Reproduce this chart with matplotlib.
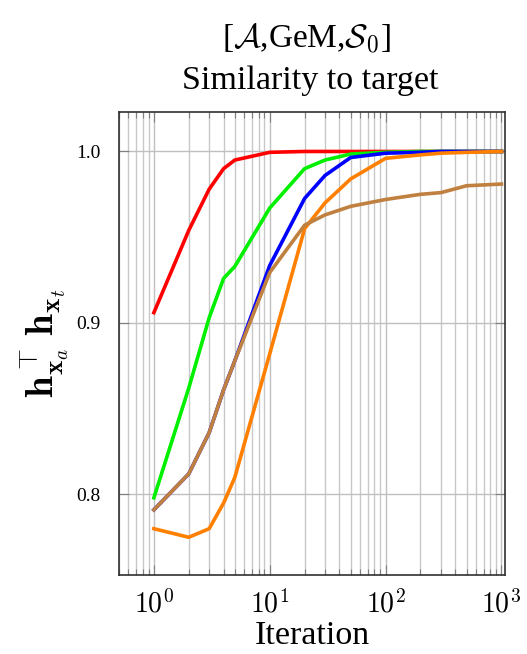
import matplotlib
matplotlib.use("Agg")
import matplotlib.pyplot as plt
from matplotlib.ticker import LogLocator, FixedLocator, NullFormatter

plt.rcParams['mathtext.fontset'] = 'cm'
plt.rcParams['font.family'] = ['Liberation Serif', 'DejaVu Serif']

iters = [1, 2, 3, 4, 5, 10, 20, 30, 50, 100, 200, 300, 500, 1000]
red = [0.906, 0.954, 0.978, 0.990, 0.995, 0.9995, 1.0, 1.0, 1.0, 1.0, 1.0, 1.0, 1.0, 1.0]
green = [0.798, 0.862, 0.903, 0.926, 0.933, 0.967, 0.990, 0.995, 0.9985, 0.9995, 1.0, 1.0, 1.0, 1.0]
blue = [0.791, 0.812, 0.836, 0.861, 0.878, 0.9335, 0.9726, 0.986, 0.9965, 0.999, 0.9995, 1.0, 1.0, 1.0]
orange = [0.780, 0.775, 0.780, 0.795, 0.810, 0.882, 0.955, 0.970, 0.984, 0.996, 0.998, 0.999, 0.9995, 1.0]
brown = [0.791, 0.812, 0.836, 0.861, 0.878, 0.9294, 0.957, 0.963, 0.968, 0.972, 0.975, 0.976, 0.980, 0.981]

series = [
    (red, '#ff0000'),
    (green, '#00f000'),
    (blue, '#0000ff'),
    (orange, '#ff8000'),
    (brown, '#bf8040'),
]

fig = plt.figure(figsize=(5.27, 6.54), dpi=100)
ax = fig.add_axes([0.2258, 0.1208, 0.7322, 0.7079])

for vals, col in series:
    ax.plot(iters, vals, color=col, lw=2.6, solid_joinstyle='round', zorder=3)

ax.set_xscale('log')
ax.set_xlim(0.5, 1070)
ax.set_ylim(0.753, 1.023)

ax.xaxis.set_major_locator(FixedLocator([1, 10, 100, 1000]))
ax.xaxis.set_minor_locator(LogLocator(base=10, subs=range(2, 10), numticks=20))
ax.xaxis.set_minor_formatter(NullFormatter())
ax.set_xticklabels([r'$10^{0}$', r'$10^{1}$', r'$10^{2}$', r'$10^{3}$'])
ax.set_yticks([0.8, 0.9, 1.0])
ax.set_yticklabels(['0.8', '0.9', '1.0'])

ax.grid(True, which='major', color='#c0c0c0', lw=1.0, zorder=0)
ax.grid(True, which='minor', axis='x', color='#c8c8c8', lw=1.0, zorder=0)

ax.tick_params(axis='x', which='major', direction='in', length=7, width=0.8,
               color='#808080', top=True, labelsize=20, pad=11)
ax.tick_params(axis='x', which='minor', direction='in', length=4.5, width=0.8,
               color='#808080', top=True)
ax.tick_params(axis='y', which='major', direction='in', length=7, width=0.8,
               color='#808080', right=True, labelsize=14, pad=13)

for s in ax.spines.values():
    s.set_color('#303030')
    s.set_linewidth(1.2)

ax.set_xlabel('Iteration', fontsize=24.5, labelpad=1)
ax.set_ylabel(r'$\mathbf{h}_{\mathbf{x}_a}^{\top}\,\mathbf{h}_{\mathbf{x}_t}$', fontsize=28, labelpad=4)

fig.text(0.582, 0.942, r'[$\mathcal{A}$,GeM,$\mathcal{S}_0$]', fontsize=24, ha='center', va='center')
fig.text(0.589, 0.876, 'Similarity to target', fontsize=24.5, ha='center', va='center')

fig.savefig('out.png', dpi=100)
